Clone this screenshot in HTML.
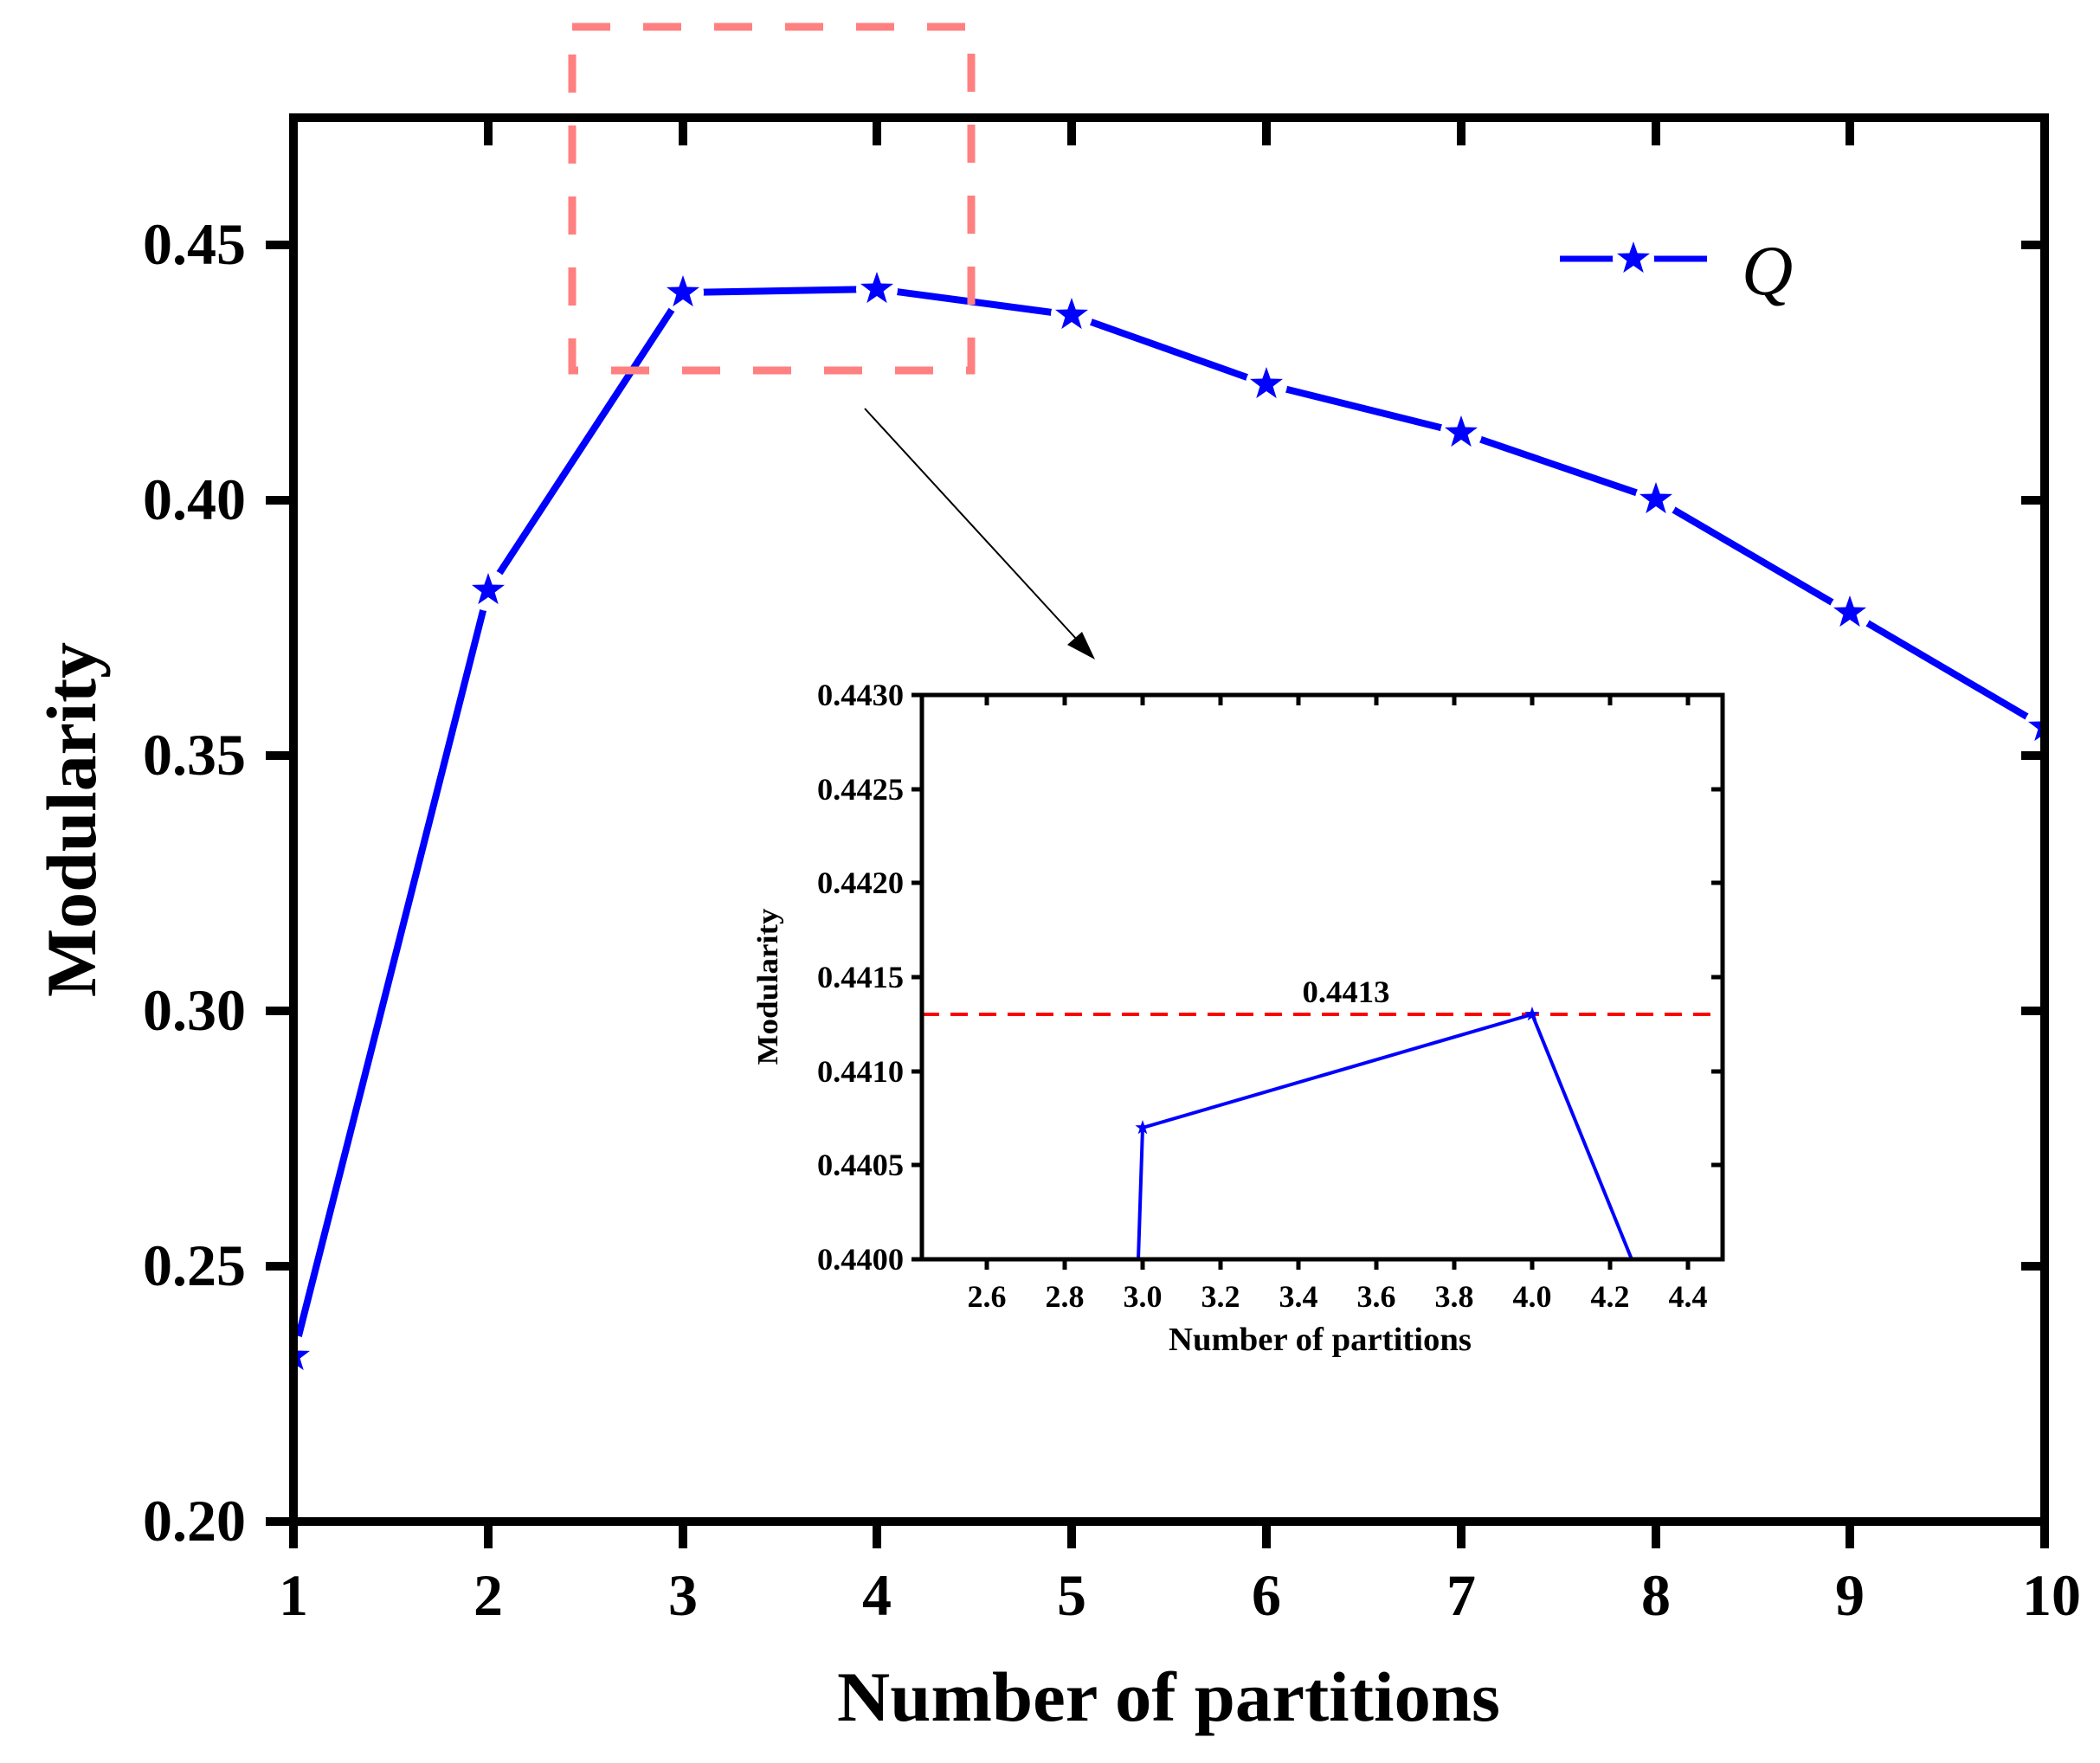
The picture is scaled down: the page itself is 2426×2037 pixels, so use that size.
<!DOCTYPE html>
<html><head><meta charset="utf-8"><style>
html,body{margin:0;padding:0;background:#fff;width:2426px;height:2037px;overflow:hidden;}
svg{display:block;}
text{font-family:"Liberation Serif",serif;font-weight:bold;fill:#000;}
</style></head><body>
<svg width="2426" height="2037" viewBox="0 0 2426 2037" xmlns="http://www.w3.org/2000/svg">
<defs>
<path id="st" d="M0,-20 L4.70,-6.47 L19.02,-6.18 L7.61,2.47 L11.76,16.18 L0,8 L-11.76,16.18 L-7.61,2.47 L-19.02,-6.18 L-4.70,-6.47Z"/>
<clipPath id="mc"><rect x="339" y="136" width="2023" height="1622"/></clipPath>
</defs>
<rect width="2426" height="2037" fill="#fff"/>

<g clip-path="url(#mc)">
<polyline fill="none" stroke="#0000ff" stroke-width="8" stroke-linejoin="round" points="339,1567 564,682 789,338 1013,334 1238,364 1463,444 1688,500 1913,577 2137,708 2362,840"/>
<g fill="#fff">
<circle cx="339" cy="1567" r="24"/><circle cx="564" cy="682" r="24"/><circle cx="789" cy="338" r="24"/><circle cx="1013" cy="334" r="24"/><circle cx="1238" cy="364" r="24"/><circle cx="1463" cy="444" r="24"/><circle cx="1688" cy="500" r="24"/><circle cx="1913" cy="577" r="24"/><circle cx="2137" cy="708" r="24"/><circle cx="2362" cy="840" r="24"/>
</g>
<g fill="#0000ff">
<use href="#st" x="339" y="1567"/><use href="#st" x="564" y="682"/><use href="#st" x="789" y="338"/><use href="#st" x="1013" y="334"/><use href="#st" x="1238" y="364"/><use href="#st" x="1463" y="444"/><use href="#st" x="1688" y="500"/><use href="#st" x="1913" y="577"/><use href="#st" x="2137" y="708"/><use href="#st" x="2362" y="840"/>
</g>
</g>

<rect x="339" y="136" width="2023" height="1622" fill="none" stroke="#000" stroke-width="10"/>
<g stroke="#000" stroke-width="10">
<path d="M339,1758V1789 M564,1758V1789 M789,1758V1789 M1013,1758V1789 M1238,1758V1789 M1463,1758V1789 M1688,1758V1789 M1913,1758V1789 M2137,1758V1789 M2362,1758V1789"/>
<path d="M564,136V168 M789,136V168 M1013,136V168 M1238,136V168 M1463,136V168 M1688,136V168 M1913,136V168 M2137,136V168"/>
<path d="M339,283H307 M339,578H307 M339,873H307 M339,1168H307 M339,1463H307 M339,1758H307"/>
<path d="M2362,283H2335 M2362,578H2335 M2362,873H2335 M2362,1168H2335 M2362,1463H2335"/>
</g>
<g font-size="68" text-anchor="end">
<text x="284" y="305">0.45</text>
<text x="284" y="600">0.40</text>
<text x="284" y="895">0.35</text>
<text x="284" y="1190">0.30</text>
<text x="284" y="1485">0.25</text>
<text x="284" y="1780">0.20</text>
</g>
<g font-size="68" text-anchor="middle">
<text x="339" y="1866">1</text><text x="564" y="1866">2</text><text x="789" y="1866">3</text><text x="1013" y="1866">4</text><text x="1238" y="1866">5</text><text x="1463" y="1866">6</text><text x="1688" y="1866">7</text><text x="1913" y="1866">8</text><text x="2137" y="1866">9</text><text x="2370" y="1866">10</text>
</g>
<text x="1350" y="1988" font-size="82" text-anchor="middle" textLength="766" lengthAdjust="spacingAndGlyphs">Number of partitions</text>
<text transform="translate(110,947) rotate(-90)" font-size="82" text-anchor="middle" textLength="410" lengthAdjust="spacingAndGlyphs">Modularity</text>

<line x1="1802" y1="299" x2="1972" y2="299" stroke="#0000ff" stroke-width="7"/>
<circle cx="1887" cy="299" r="24" fill="#fff"/>
<use href="#st" x="1887" y="299" fill="#0000ff"/>
<text x="2012" y="340" font-size="82" font-style="italic" style="font-weight:normal">Q</text>

<rect x="661" y="31" width="461" height="397" fill="none" stroke="#ff8080" stroke-width="9" stroke-dasharray="44,38"/>

<line x1="999" y1="472" x2="1245" y2="740" stroke="#000" stroke-width="2"/>
<polygon points="1265,762 1233,745 1250,730" fill="#000"/>

<rect x="1065" y="803" width="925" height="652" fill="#fff"/>
<line x1="1065" y1="1172" x2="1980" y2="1172" stroke="#ff0000" stroke-width="4" stroke-dasharray="20,13"/>
<polyline fill="none" stroke="#0000ff" stroke-width="4" points="1315,1455 1320,1303 1770,1172 1885,1455"/>
<g fill="#0000ff">
<use href="#st" transform="translate(1320,1303) scale(0.45)"/>
<use href="#st" transform="translate(1770,1172) scale(0.45)"/>
</g>
<rect x="1065" y="803" width="925" height="652" fill="none" stroke="#000" stroke-width="5"/>
<g stroke="#000" stroke-width="5">
<path d="M1065,803H1053 M1065,912H1053 M1065,1020H1053 M1065,1129H1053 M1065,1238H1053 M1065,1346H1053 M1065,1455H1053"/>
<path d="M1990,912H1977 M1990,1020H1977 M1990,1129H1977 M1990,1238H1977 M1990,1346H1977"/>
<path d="M1140,1455V1467 M1230,1455V1467 M1320,1455V1467 M1410,1455V1467 M1500,1455V1467 M1590,1455V1467 M1680,1455V1467 M1770,1455V1467 M1860,1455V1467 M1950,1455V1467"/>
<path d="M1140,803V815 M1230,803V815 M1320,803V815 M1410,803V815 M1500,803V815 M1590,803V815 M1680,803V815 M1770,803V815 M1860,803V815 M1950,803V815"/>
</g>
<g font-size="36" text-anchor="end">
<text x="1044" y="815" textLength="100" lengthAdjust="spacingAndGlyphs">0.4430</text>
<text x="1044" y="924" textLength="100" lengthAdjust="spacingAndGlyphs">0.4425</text>
<text x="1044" y="1032" textLength="100" lengthAdjust="spacingAndGlyphs">0.4420</text>
<text x="1044" y="1141" textLength="100" lengthAdjust="spacingAndGlyphs">0.4415</text>
<text x="1044" y="1250" textLength="100" lengthAdjust="spacingAndGlyphs">0.4410</text>
<text x="1044" y="1358" textLength="100" lengthAdjust="spacingAndGlyphs">0.4405</text>
<text x="1044" y="1467" textLength="100" lengthAdjust="spacingAndGlyphs">0.4400</text>
</g>
<g font-size="36" text-anchor="middle">
<text x="1140" y="1510">2.6</text><text x="1230" y="1510">2.8</text><text x="1320" y="1510">3.0</text><text x="1410" y="1510">3.2</text><text x="1500" y="1510">3.4</text><text x="1590" y="1510">3.6</text><text x="1680" y="1510">3.8</text><text x="1770" y="1510">4.0</text><text x="1860" y="1510">4.2</text><text x="1950" y="1510">4.4</text>
</g>
<text x="1525" y="1560" font-size="38" text-anchor="middle" textLength="350" lengthAdjust="spacingAndGlyphs">Number of partitions</text>
<text transform="translate(898,1140) rotate(-90)" font-size="34" text-anchor="middle" textLength="181" lengthAdjust="spacingAndGlyphs">Modularity</text>
<text x="1555" y="1158" font-size="36" text-anchor="middle" textLength="101" lengthAdjust="spacingAndGlyphs">0.4413</text>
</svg>
</body></html>
